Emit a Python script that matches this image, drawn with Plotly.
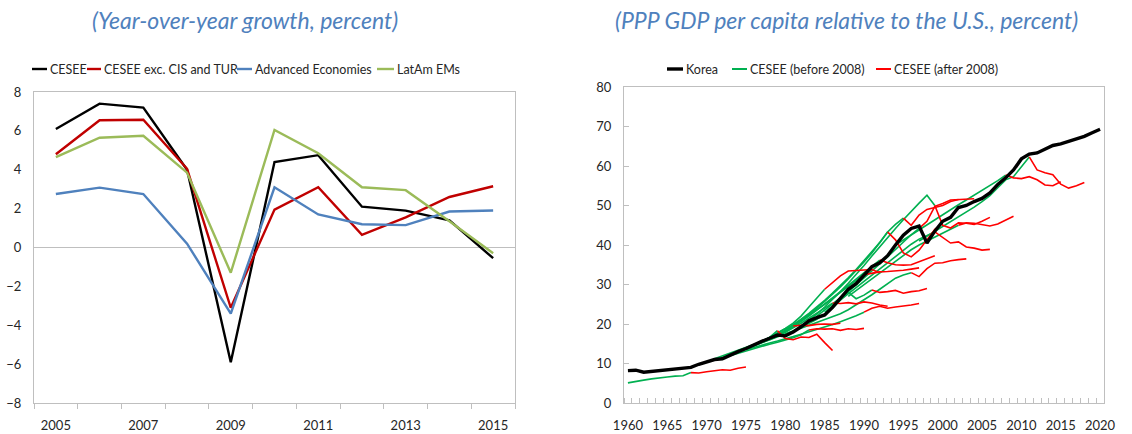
import plotly.graph_objects as go

W, H = 1132, 434

# ---------------- Left chart data ----------------
years_left = list(range(2005, 2016))
left_ticks = [2005, 2007, 2009, 2011, 2013, 2015]
cesee = [6.1, 7.4, 7.2, 4.0, -5.9, 4.4, 4.75, 2.1, 1.9, 1.4, -0.55]
cesee_exc = [4.8, 6.55, 6.57, 4.05, -3.1, 1.95, 3.1, 0.65, 1.55, 2.6, 3.15]
advanced = [2.75, 3.08, 2.75, 0.2, -3.4, 3.1, 1.7, 1.2, 1.15, 1.85, 1.9]
latam = [4.65, 5.65, 5.75, 3.85, -1.3, 6.05, 4.85, 3.1, 2.95, 1.35, -0.3]

# ---------------- Right chart data ----------------
korea_years = list(range(1960, 2021))
korea = [8.2, 8.3, 7.8, 8.0, 8.2, 8.2, 8.6, 8.6, 9.0, 9.8,
         10.4, 11.0, 11.2, 12.2, 13.0, 13.8, 14.8, 15.6, 16.4, 17.2,
         17.0, 18.0, 19.3, 20.8, 21.6, 22.3, 24.2, 26.5, 28.8, 30.2,
         32.4, 34.5, 35.5, 37.3, 40.0, 42.5, 44.2, 44.8, 40.5, 43.5,
         46.0, 47.0, 49.5, 50.0, 51.0, 51.8, 53.2, 55.3, 57.0, 59.0,
         61.8, 63.0, 63.3, 64.3, 65.2, 65.6, 66.2, 66.8, 67.5, 68.4, 69.3]
right_ticks = list(range(1960, 2021, 5))

# CESEE country paths: green = before 2008, red = after 2008 (aligned on Korea's timeline)
c01_green_start, c01_green = 1960, [5.1, 5.5, 5.8, 6.1, 6.4, 6.6, 6.8, 6.9, 7.7]
c01_red_start, c01_red = 1968, [7.7, 7.6, 7.9, 8.2, 8.4, 8.3, 8.8, 9.1]
c02_green_start, c02_green = 1971, [11.2, 11.9, 12.7, 13.4, 14.1, 14.8, 15.6, 16.6, 18.3]
c02_red_start, c02_red = 1979, [18.3, 16.3, 16.0, 16.7, 16.6, 17.4, 15.3, 13.3]
c03_green_start, c03_green = 1972, [11.5, 12.3, 13.1, 13.9, 14.7, 15.6, 16.6, 17.7, 18.8, 19.5]
c03_red_start, c03_red = 1981, [19.5, 19.7, 19.6, 19.9, 20.0, 19.9, 20.2]
c04_green_start, c04_green = 1972, [11.4, 12.0, 12.6, 13.2, 13.8, 14.3, 14.9, 15.4, 15.9, 16.5, 17.3, 18.5]
c04_red_start, c04_red = 1983, [18.5, 18.8, 18.7, 18.8, 18.4, 18.8, 18.6, 18.9]
c05_green_start, c05_green = 1973, [12.0, 12.8, 13.6, 14.4, 15.2, 16.0, 16.9, 17.9, 19.0, 20.2, 21.5, 22.8, 24.0, 25.3]
c05_red_start, c05_red = 1986, [25.3, 25.2, 25.4, 25.1, 25.6, 25.3, 24.8, 24.5]
c06_green_start, c06_green = 1973, [12.2, 13.0, 13.8, 14.7, 15.6, 16.6, 17.7, 18.9, 20.2, 22.0, 24.3, 26.5, 28.8]
c06_red_start, c06_red = 1985, [28.8, 30.4, 32.2, 33.4, 33.5, 33.6, 33.8, 33.0]
c07_green_start, c07_green = 1975, [13.5, 14.1, 14.7, 15.2, 15.7, 16.2, 16.8, 17.4, 18.0, 18.6, 19.2, 19.9, 20.6, 21.3, 22.1, 23.0]
c07_red_start, c07_red = 1990, [23.0, 24.0, 24.5, 24.0, 24.3, 24.5, 24.8, 25.2]
c08_green_start, c08_green = 1976, [14.5, 15.2, 15.9, 16.6, 17.4, 18.2, 19.1, 20.1, 21.2, 22.5, 24.0, 26.0, 28.0, 26.4, 27.3, 28.6]
c08_red_start, c08_red = 1991, [28.6, 28.0, 28.2, 28.5, 27.8, 28.2, 28.4, 29.0]
c09_green_start, c09_green = 1976, [14.6, 15.4, 16.3, 17.3, 18.4, 19.6, 20.9, 22.2, 23.6, 25.0, 26.5, 28.0, 29.5, 31.0, 32.5]
c09_red_start, c09_red = 1990, [32.5, 32.8, 33.2, 33.3, 33.4, 33.6, 33.9, 34.2]
c10_green_start, c10_green = 1980, [17.5, 18.2, 18.9, 19.6, 20.3, 21.0, 21.8, 22.6, 23.6, 24.8, 26.0, 27.4, 28.8, 30.2, 31.6, 32.4, 33.0]
c10_red_start, c10_red = 1996, [33.0, 32.0, 34.0, 35.4, 35.5, 36.0, 36.3, 36.5]
c11_green_start, c11_green = 1978, [16.0, 17.0, 18.1, 19.3, 20.6, 22.0, 23.5, 25.0, 26.6, 28.2, 29.8, 31.4, 33.0, 34.6, 36.2]
c11_red_start, c11_red = 1992, [36.2, 35.5, 35.0, 34.9, 35.0, 35.8, 36.5, 37.3]
c12_green_start, c12_green = 1980, [18.5, 19.8, 21.2, 22.7, 24.3, 26.0, 27.8, 29.7, 31.7, 33.8, 36.0, 38.3, 40.6, 43.3, 45.2, 46.8]
c12_red_start, c12_red = 1995, [46.8, 45.0, 47.6, 49.0, 49.5, 50.0, 51.0, 51.5]
c13_green_start, c13_green = 1979, [17.0, 18.2, 19.5, 20.9, 22.4, 24.0, 25.7, 27.5, 29.4, 31.4, 33.5, 35.7, 38.0, 40.5, 43.3]
c13_red_start, c13_red = 1993, [43.3, 41.3, 38.0, 37.0, 38.7, 41.3, 44.0, 45.5]
c14_green_start, c14_green = 1983, [21.0, 22.5, 24.3, 26.2, 28.2, 30.3, 32.5, 34.8, 37.2, 39.6, 42.0, 44.2, 46.4, 48.6, 50.6, 52.6, 50.0]
c14_red_start, c14_red = 1999, [50.0, 45.0, 44.3, 45.6, 45.5, 45.2, 46.0, 47.0]
c15_green_start, c15_green = 1985, [23.0, 24.5, 26.0, 27.6, 29.2, 30.8, 32.4, 34.0, 35.6, 37.2, 38.8, 40.2, 41.5, 42.5, 43.3]
c15_red_start, c15_red = 1999, [43.3, 42.0, 40.5, 40.8, 39.5, 39.2, 38.7, 38.9]
c16_green_start, c16_green = 1988, [27.0, 28.5, 30.0, 31.5, 33.0, 34.5, 36.0, 37.5, 38.8, 40.0, 41.0, 42.0, 43.0, 44.0, 45.0]
c16_red_start, c16_red = 2002, [45.0, 45.6, 45.5, 45.2, 44.8, 45.3, 46.3, 47.3]
c17_green_start, c17_green = 1984, [22.0, 23.5, 25.0, 26.6, 28.2, 29.9, 31.6, 33.4, 35.2, 37.0, 38.9, 40.8, 42.6, 44.2]
c17_red_start, c17_red = 1997, [44.2, 46.0, 49.8, 50.5, 51.4, 51.5, 51.6, 51.7]
c18_green_start, c18_green = 1994, [40.0, 41.3, 42.6, 43.9, 45.2, 46.5, 47.8, 49.0, 50.2, 51.4, 52.6, 53.8, 55.0, 56.3, 57.7]
c18_red_start, c18_red = 2008, [57.7, 57.0, 56.8, 57.3, 56.5, 55.2, 55.0, 56.0]
c19_green_start, c19_green = 1997, [41.0, 42.2, 43.4, 44.6, 45.8, 47.0, 48.3, 49.6, 51.0, 52.5, 54.5, 56.5, 57.3, 59.8, 62.3]
c19_red_start, c19_red = 2011, [62.3, 59.0, 58.3, 57.8, 55.4, 54.4, 55.0, 55.8]

countries = [
    (c01_green_start, c01_green, c01_red_start, c01_red),
    (c02_green_start, c02_green, c02_red_start, c02_red),
    (c03_green_start, c03_green, c03_red_start, c03_red),
    (c04_green_start, c04_green, c04_red_start, c04_red),
    (c05_green_start, c05_green, c05_red_start, c05_red),
    (c06_green_start, c06_green, c06_red_start, c06_red),
    (c07_green_start, c07_green, c07_red_start, c07_red),
    (c08_green_start, c08_green, c08_red_start, c08_red),
    (c09_green_start, c09_green, c09_red_start, c09_red),
    (c10_green_start, c10_green, c10_red_start, c10_red),
    (c11_green_start, c11_green, c11_red_start, c11_red),
    (c12_green_start, c12_green, c12_red_start, c12_red),
    (c13_green_start, c13_green, c13_red_start, c13_red),
    (c14_green_start, c14_green, c14_red_start, c14_red),
    (c15_green_start, c15_green, c15_red_start, c15_red),
    (c16_green_start, c16_green, c16_red_start, c16_red),
    (c17_green_start, c17_green, c17_red_start, c17_red),
    (c18_green_start, c18_green, c18_red_start, c18_red),
    (c19_green_start, c19_green, c19_red_start, c19_red),
]

# ---------------- Styles ----------------
FONT = "Lato"
TXT = "#262626"
AXC = "#BFBFBF"
TITLE_C = "#4F81BD"
C_BLACK, C_DRED, C_BLUE, C_LGREEN = "#000000", "#C00000", "#4F81BD", "#9BBB59"
C_GREEN, C_RED = "#00B050", "#FF0000"


def px(x):
    """page pixel x -> paper fraction"""
    return x / W


def py(y):
    """page pixel y -> paper fraction"""
    return 1 - y / H


fig = go.Figure()

left_series = [("CESEE", cesee, C_BLACK), ("CESEE exc. CIS and TUR", cesee_exc, C_DRED),
               ("Advanced Economies", advanced, C_BLUE), ("LatAm EMs", latam, C_LGREEN)]
for name, vals, col in left_series:
    fig.add_trace(go.Scatter(x=years_left, y=vals, mode="lines", name=name,
                             line=dict(color=col, width=2.4), xaxis="x", yaxis="y",
                             showlegend=False))

for gs, gv, rs, rv in countries:
    fig.add_trace(go.Scatter(x=list(range(gs, gs + len(gv))), y=gv, mode="lines",
                             line=dict(color=C_GREEN, width=1.6), xaxis="x2", yaxis="y2",
                             showlegend=False))
for gs, gv, rs, rv in countries:
    fig.add_trace(go.Scatter(x=list(range(rs, rs + len(rv))), y=rv, mode="lines",
                             line=dict(color=C_RED, width=1.6), xaxis="x2", yaxis="y2",
                             showlegend=False))
fig.add_trace(go.Scatter(x=korea_years, y=korea, mode="lines", name="Korea",
                         line=dict(color=C_BLACK, width=3.4), xaxis="x2", yaxis="y2",
                         showlegend=False))

tickfont = dict(family=FONT, size=13, color=TXT)

fig.update_layout(
    width=W, height=H, margin=dict(l=0, r=0, t=0, b=0, autoexpand=False),
    showlegend=False,
    paper_bgcolor="white", plot_bgcolor="white",
    xaxis=dict(domain=[px(34), px(515)], range=[2004.5, 2015.5], tickvals=left_ticks,
               ticks="", showline=True, linecolor=AXC, linewidth=1, mirror=True,
               showgrid=False, zeroline=False, tickfont=tickfont, ticklabelstandoff=10,
               minor=dict(tickmode="linear", tick0=2004.5, dtick=1, ticks="outside",
                          ticklen=5, tickcolor=AXC, showgrid=False),
               anchor="y", automargin=False),
    yaxis=dict(domain=[py(403), py(92)], range=[-8, 8], dtick=2, ticks="",
               showline=True, linecolor=AXC, linewidth=1, mirror=True,
               showgrid=False, zeroline=True, zerolinecolor=AXC, zerolinewidth=1,
               tickfont=tickfont, ticklabelstandoff=9, anchor="x", automargin=False),
    xaxis2=dict(domain=[px(624), px(1104)], range=[1959.5, 2020.5], tickvals=right_ticks,
                ticks="", showline=True, linecolor=AXC, linewidth=1, mirror=True,
                showgrid=False, zeroline=False, tickfont=tickfont, ticklabelstandoff=10,
                minor=dict(tickmode="linear", tick0=1959.5, dtick=1, ticks="inside",
                           ticklen=5, tickcolor=AXC, showgrid=False),
                anchor="y2", automargin=False),
    yaxis2=dict(domain=[py(403), py(87)], range=[0, 80], dtick=10, ticks="inside",
                ticklen=5, tickcolor=AXC, showline=True, linecolor=AXC, linewidth=1,
                mirror=True, showgrid=False, zeroline=False, tickfont=tickfont,
                ticklabelstandoff=9, anchor="x2", automargin=False),
)

# Titles
for txt, cx in [("(Year-over-year growth, percent)", 245),
                ("(PPP GDP per capita relative to the U.S., percent)", 846)]:
    fig.add_annotation(text=txt, x=px(cx), y=py(20), xref="paper", yref="paper",
                       xanchor="center", yanchor="middle", showarrow=False,
                       font=dict(family=FONT, size=23, color=TITLE_C, style="italic"))

# Manual legends (line sample + label)
legend_items = [
    (32, 47, "CESEE", C_BLACK, 2.4, 12.5),
    (87, 101, "CESEE exc. CIS and TUR", C_DRED, 2.4, 12.5),
    (237, 252, "Advanced Economies", C_BLUE, 2.4, 12.5),
    (377, 394, "LatAm EMs", C_LGREEN, 2.4, 12.5),
    (667, 683, "Korea", C_BLACK, 3.4, 12.5),
    (732, 747, "CESEE (before 2008)", C_GREEN, 2.0, 12.5),
    (876, 891, "CESEE (after 2008)", C_RED, 2.0, 12.5),
]
for x0, x1, label, col, wd, fs in legend_items:
    fig.add_shape(type="line", xref="paper", yref="paper", x0=px(x0), x1=px(x1),
                  y0=py(69), y1=py(69), line=dict(color=col, width=wd))
    fig.add_annotation(text=label, x=px(x1 + 1), y=py(69), xref="paper", yref="paper",
                       xanchor="left", yanchor="middle", showarrow=False,
                       font=dict(family=FONT, size=fs, color=TXT))

fig.write_html("out.html",
               config={"displayModeBar": False},
               post_script="document.body.style.margin='0px';"
                           "document.body.style.overflow='hidden';")
